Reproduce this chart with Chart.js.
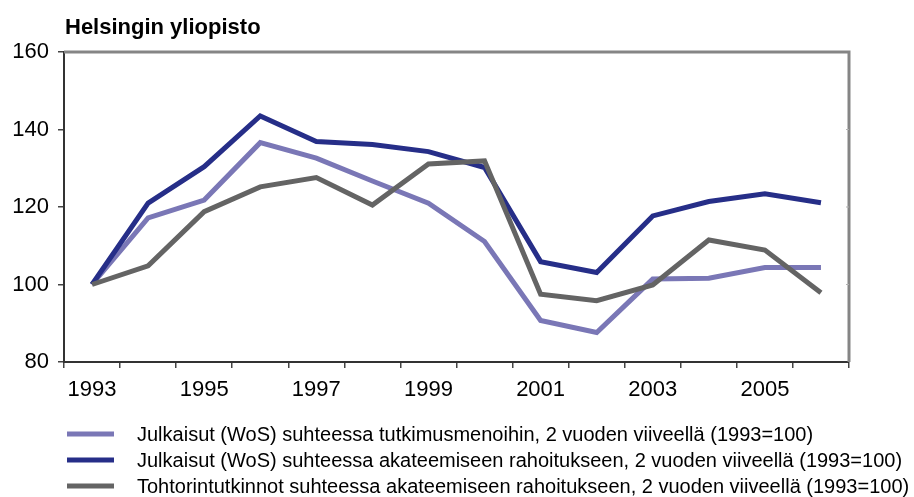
<!DOCTYPE html>
<html>
<head>
<meta charset="utf-8">
<script src="https://cdn.jsdelivr.net/npm/chart.js@4/dist/chart.umd.min.js"></script>
<style>
  html, body { margin: 0; padding: 0; background: #fff; }
  #wrap { width: 914px; height: 497px; position: relative; }
</style>
</head>
<body>
<div id="wrap"><canvas id="c" width="914" height="497"></canvas></div>
<script>
const chartTitle = "Helsingin yliopisto";
const years = ["1993","1994","1995","1996","1997","1998","1999","2000","2001","2002","2003","2004","2005","2006"];
const seriesLabels = [
  "Julkaisut (WoS) suhteessa tutkimusmenoihin, 2 vuoden viiveellä (1993=100)",
  "Julkaisut (WoS) suhteessa akateemiseen rahoitukseen, 2 vuoden viiveellä (1993=100)",
  "Tohtorintutkinnot suhteessa akateemiseen rahoitukseen, 2 vuoden viiveellä (1993=100)"
];
const julkaisutTutkimus = [100, 117.2, 121.8, 136.6, 132.6, 126.7, 121.0, 111.1, 90.7, 87.6, 101.4, 101.6, 104.4, 104.4];
const julkaisutAkateeminen = [100, 121.0, 130.4, 143.5, 136.9, 136.1, 134.3, 130.2, 105.9, 103.1, 117.7, 121.4, 123.4, 121.1];
const tohtorintutkinnot = [100, 104.8, 118.8, 125.2, 127.6, 120.5, 131.1, 131.9, 97.5, 95.8, 99.9, 111.5, 108.9, 97.9];
const yMin = 80, yMax = 160, yStep = 20;

const colors = ["#7a77b6", "#262e88", "#646464"];
const FONT = "'Liberation Sans', Arial, Helvetica, sans-serif";

const decorPlugin = {
  id: 'decor',
  beforeDatasetsDraw(chart) {
    const ctx = chart.ctx, a = chart.chartArea;
    ctx.save();
    ctx.strokeStyle = '#858585';
    ctx.lineWidth = 3;
    ctx.beginPath();
    ctx.moveTo(a.left, a.top);
    ctx.lineTo(a.right, a.top);
    ctx.lineTo(a.right, a.bottom);
    ctx.stroke();
    const y = chart.scales.y;
    ctx.lineWidth = 1;
    ctx.strokeStyle = '#b0b0b0';
    [100, 120, 140].forEach(v => {
      const py = y.getPixelForValue(v);
      ctx.beginPath(); ctx.moveTo(a.right - 3, py); ctx.lineTo(a.right, py); ctx.stroke();
    });
    ctx.restore();
  },
  afterDraw(chart) {
    const ctx = chart.ctx;
    ctx.save();
    ctx.fillStyle = '#000';
    ctx.font = "bold 22px " + FONT;
    ctx.textBaseline = 'alphabetic';
    ctx.textAlign = 'left';
    ctx.fillText(chartTitle, 65, 34);
    ctx.font = "20px " + FONT;
    ctx.textBaseline = 'middle';
    chart.data.datasets.forEach((ds, i) => {
      const cy = 434 + i * 26;
      ctx.fillStyle = ds.borderColor;
      ctx.fillRect(67, cy - 2.5, 47, 5);
      ctx.fillStyle = '#000';
      ctx.fillText(ds.label, 137, cy + 1);
    });
    ctx.restore();
  }
};

new Chart(document.getElementById('c'), {
  type: 'line',
  data: {
    labels: years,
    datasets: [
      { label: seriesLabels[0], data: julkaisutTutkimus, borderColor: colors[0], backgroundColor: colors[0], order: 3 },
      { label: seriesLabels[1], data: julkaisutAkateeminen, borderColor: colors[1], backgroundColor: colors[1], order: 2 },
      { label: seriesLabels[2], data: tohtorintutkinnot, borderColor: colors[2], backgroundColor: colors[2], order: 1 }
    ]
  },
  options: {
    responsive: false,
    animation: false,
    devicePixelRatio: 1,
    elements: {
      line: { borderWidth: 5, tension: 0, borderJoinStyle: 'miter', borderCapStyle: 'butt', fill: false },
      point: { radius: 0, hoverRadius: 0 }
    },
    layout: { padding: { left: 0, top: 52, right: 65, bottom: 100 } },
    plugins: { legend: { display: false }, title: { display: false }, tooltip: { enabled: false } },
    scales: {
      x: {
        type: 'category',
        offset: true,
        afterFit: s => { s.height = 35; },
        grid: { display: true, offset: true, drawOnChartArea: false, drawTicks: true, tickLength: 6, color: '#444', lineWidth: 1.5 },
        border: { display: true, color: '#333', width: 2 },
        ticks: {
          autoSkip: false, maxRotation: 0, padding: 9, color: '#000',
          font: { family: FONT, size: 22 },
          callback: function(v, i) { return i % 2 === 0 ? this.getLabelForValue(v) : ''; }
        }
      },
      y: {
        min: yMin, max: yMax,
        afterFit: s => { s.width = 64; },
        grid: { display: true, drawOnChartArea: false, drawTicks: true, tickLength: 6, color: '#444', lineWidth: 1.5 },
        border: { display: true, color: '#333', width: 2 },
        ticks: { stepSize: yStep, padding: 9, color: '#000', font: { family: FONT, size: 22 } }
      }
    }
  },
  plugins: [decorPlugin]
});
</script>
</body>
</html>
